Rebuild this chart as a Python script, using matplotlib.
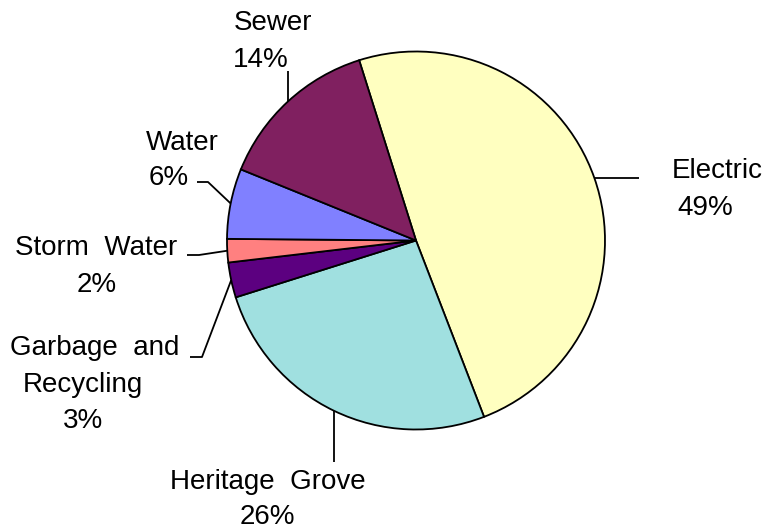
import numpy as np
import matplotlib.pyplot as plt

plt.rcParams["font.family"] = ["Liberation Sans", "DejaVu Sans"]

# ---- data -----------------------------------------------------------------
categories = ["Electric", "Heritage Grove", "Garbage and Recycling",
              "Storm Water", "Water", "Sewer"]
shares = [49, 26, 3, 2, 6, 14]
colors = ["#FFFFC0", "#A0E0E0", "#5C0080", "#FF8080", "#8080FF", "#802060"]

# ---- layout (pixel positions in a 768x531 canvas) -------------------------
W, H = 768, 531
CX, CY, R = 416, 240.5, 189.0


def px(x, y):
    """pixel coords -> pie data units (centre 0,0, radius 1)"""
    return (x - CX) / R, (CY - y) / R


# label lines: (text, x_center, baseline_y)
label_lines = {
    "Electric": [("Electric", 717, 178), ("49%", 705, 215)],
    "Heritage Grove": [("Heritage  Grove", 268, 489), ("26%", 267, 524)],
    "Garbage and Recycling": [("Garbage  and", 95, 355), ("Recycling", 83, 392),
                              ("3%", 83, 428)],
    "Storm Water": [("Storm  Water", 96, 255), ("2%", 97, 292)],
    "Water": [("Water", 182, 150), ("6%", 169, 185)],
    "Sewer": [("Sewer", 273, 30), ("14%", 261, 67)],
}
# leader line points after the pie-edge start (pixel); None = keep start coord
leaders = {
    "Electric": [(639, None)],
    "Heritage Grove": [(None, 462)],
    "Garbage and Recycling": [(202, 357), (190, 357)],
    "Storm Water": [(199, 255), (187, 255)],
    "Water": [(208, 182), (197, 182)],
    "Sewer": [(None, 71)],
}

fig = plt.figure(figsize=(W / 100, H / 100), dpi=100)
ax = fig.add_axes([0, 0, 1, 1])

wedges, _ = ax.pie(shares, colors=colors, startangle=107.5, counterclock=False,
                   radius=1.0,
                   wedgeprops=dict(edgecolor="black", linewidth=1.3))

x0, y0 = px(0, H)
x1, y1 = px(W, 0)
ax.set_xlim(x0, x1)
ax.set_ylim(y0, y1)
ax.set_aspect("equal", adjustable="datalim")
ax.axis("off")

for w, name in zip(wedges, categories):
    mid = np.deg2rad((w.theta1 + w.theta2) / 2)
    sx, sy = np.cos(mid), np.sin(mid)
    xs, ys = [sx], [sy]
    for lx, ly in leaders[name]:
        dx = sx if lx is None else px(lx, 0)[0]
        dy = sy if ly is None else px(0, ly)[1]
        xs.append(dx)
        ys.append(dy)
    ax.plot(xs, ys, color="black", lw=1.3, solid_capstyle="butt")
    for txt, tx, ty in label_lines[name]:
        ax.text(*px(tx, ty), txt, ha="center", va="baseline", fontsize=20)

fig.savefig("out.png", dpi=100)
